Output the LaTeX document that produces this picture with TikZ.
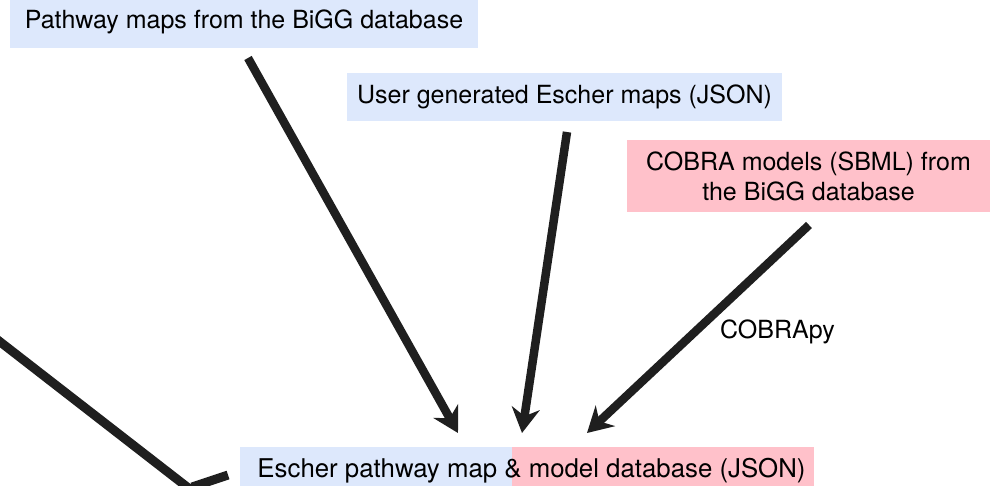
\documentclass[tikz,border=0pt]{standalone}
\usepackage{fontspec}
\setmainfont{TeX Gyre Heros}
\usetikzlibrary{arrows.meta}
\definecolor{boxblue}{RGB}{221,232,252}
\definecolor{boxpink}{RGB}{255,193,202}
\tikzset{
  txt/.style={font=\fontsize{25}{30}\selectfont, text=black},
  bluebox/.style={txt, fill=boxblue, inner sep=0pt, align=center},
  pinkbox/.style={txt, fill=boxpink, inner sep=0pt, align=center},
  arr/.style={line width=8.5pt, draw=black!88, line cap=butt,
    -{Stealth[length=25pt, width=28pt, inset=8pt]}},
  bar/.style={line width=9pt, draw=black!88, line cap=butt}
}
\begin{document}
\begin{tikzpicture}[x=1pt,y=-1pt]
\useasboundingbox (0,0) rectangle (991,485);
\clip (0,0) rectangle (991,485);
% boxes
\node[bluebox, minimum width=468pt, minimum height=52pt] (b1) at (244,22) {Pathway maps from the BiGG database};
\node[bluebox, minimum width=435pt, minimum height=48pt] (b2) at (564.5,97) {User generated Escher maps (JSON)};
\node[pinkbox, minimum width=363pt, minimum height=72pt] (b3) at (808.5,176) {COBRA models (SBML) from\\the BiGG database};
% bottom database box
\fill[boxblue] (240,447) rectangle (512,490);
\fill[boxpink] (512,447) rectangle (814,490);
\node[txt, font=\fontsize{25.8}{30}\selectfont, anchor=base, inner sep=0pt] (db) at (531.5,477) {Escher pathway map \& model database (JSON)};
% label
\node[txt, inner sep=0pt] (lbl) at (777.5,332) {COBRApy};
% arrow ends
\coordinate (s1) at (248,58);
\coordinate (t1) at (458,433);
\coordinate (s2) at (567,132);
\coordinate (t2) at (522,433);
\coordinate (s3) at (809,225);
\coordinate (t3) at (587,433);
\draw[arr] (s1) -- (t1);
\draw[arr] (s2) -- (t2);
\draw[arr] (s3) -- (t3);
% partial lines at lower left
\coordinate (l1a) at (-10,334);
\coordinate (l1b) at (200,497);
\coordinate (l2a) at (192,487);
\coordinate (l2b) at (228,475);
\draw[bar] (l1a) -- (l1b);
\draw[bar] (l2a) -- (l2b);
\end{tikzpicture}
\end{document}
